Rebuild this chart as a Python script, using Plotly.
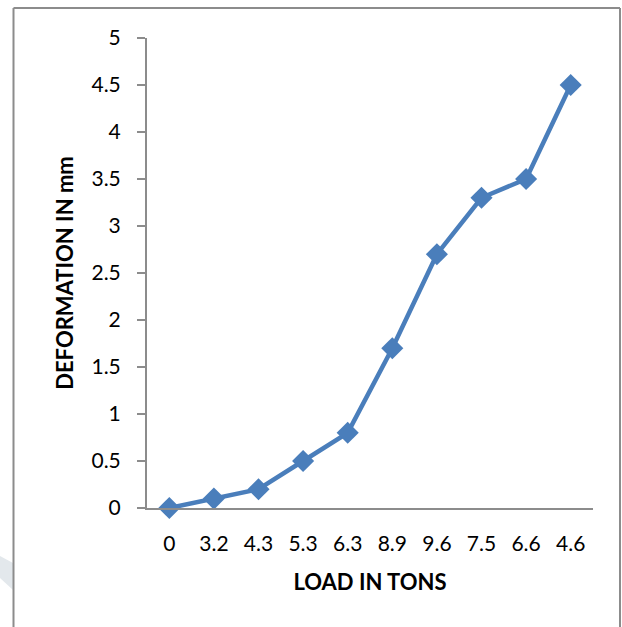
import plotly.graph_objects as go

load_labels = ["0", "3.2", "4.3", "5.3", "6.3", "8.9", "9.6", "7.5", "6.6", "4.6"]
deformation = [0, 0.1, 0.2, 0.5, 0.8, 1.7, 2.7, 3.3, 3.5, 4.5]
y_ticks = [0, 0.5, 1, 1.5, 2, 2.5, 3, 3.5, 4, 4.5, 5]

FONT = "Lato"
fig = go.Figure()
fig.add_trace(go.Scatter(
    x=load_labels, y=deformation, mode="lines+markers",
    line=dict(color="#4A7EBB", width=4.5),
    marker=dict(symbol="diamond", size=17, color="#4A7EBB"),
    showlegend=False, cliponaxis=False,
))

fig.update_layout(
    width=622, height=627,
    margin=dict(l=147, r=29, t=38, b=119),
    paper_bgcolor="white", plot_bgcolor="white",
    font=dict(family=FONT, size=21, color="#000000"),
    xaxis=dict(
        type="category", categoryorder="array", categoryarray=load_labels,
        range=[-0.5, len(load_labels) - 0.5], autorange=False,
        showline=True, linecolor="#8C8C8C", linewidth=2,
        ticks="outside", ticklen=16, tickcolor="rgba(0,0,0,0)",
        showgrid=False, zeroline=False,
        title=dict(text="<b>LOAD IN TONS</b>", font=dict(family=FONT, size=22), standoff=20),
    ),
    yaxis=dict(
        range=[0, 5], autorange=False, tickvals=y_ticks, ticktext=[f"{v:g}" for v in y_ticks],
        showline=True, linecolor="#8C8C8C", linewidth=2,
        ticks="outside", ticklen=8, tickcolor="#8C8C8C", tickwidth=2,
        ticklabelstandoff=12,
        showgrid=False, zeroline=False,
        title=dict(text="<b>DEFORMATION IN mm</b>", font=dict(family=FONT, size=22), standoff=12),
    ),
    shapes=[
        # outer chart border
        dict(type="line", xref="paper", yref="paper", x0=(13.5 - 147) / 446, x1=(13.5 - 147) / 446,
             y0=(627 - 119 - 8) / 470, y1=-119 / 470, line=dict(color="#8C8C8C", width=2)),
        dict(type="line", xref="paper", yref="paper", x0=(13.5 - 147) / 446, x1=(620 - 147) / 446,
             y0=(627 - 119 - 8) / 470, y1=(627 - 119 - 8) / 470, line=dict(color="#8C8C8C", width=2)),
        dict(type="line", xref="paper", yref="paper", x0=(620 - 147) / 446, x1=(620 - 147) / 446,
             y0=(627 - 119 - 8) / 470, y1=-119 / 470, line=dict(color="#8C8C8C", width=2)),
        # faint watermark fragment at left edge
        dict(type="path", xref="paper", yref="paper",
             path="M %f %f L %f %f L %f %f L %f %f Z" % (
                 (0 - 147) / 446, (508 - 556) / 470,
                 (13 - 147) / 446, (508 - 563) / 470,
                 (13 - 147) / 446, (508 - 590) / 470,
                 (0 - 147) / 446, (508 - 578) / 470),
             fillcolor="#E3E8EC", line=dict(width=0), layer="below"),
    ],
)

fig.write_html("out.html")
